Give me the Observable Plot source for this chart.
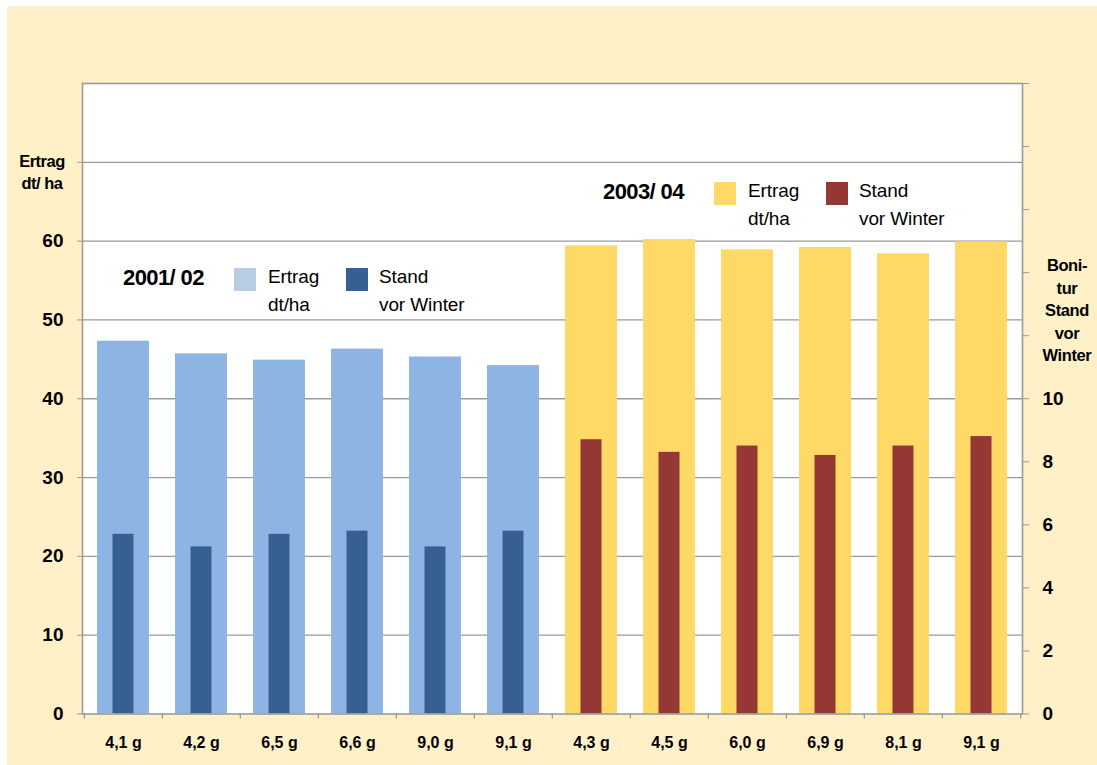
<!DOCTYPE html>
<html>
<head>
<meta charset="utf-8">
<script src="https://cdn.jsdelivr.net/npm/d3@7"></script>
<script src="https://cdn.jsdelivr.net/npm/@observablehq/plot@0.6"></script>
<style>
  html, body { margin: 0; padding: 0; background: #ffffff; }
  #wrap { position: relative; width: 1097px; height: 765px; overflow: hidden; }
  #bg { position: absolute; left: 7px; top: 6px; right: 0; bottom: 0; background: #FFF0C8; }
  #chart { position: absolute; left: 0; top: 0; }
  svg text { font-family: "Liberation Sans", Arial, sans-serif; }
</style>
</head>
<body>
<div id="wrap"><div id="bg"></div><div id="chart"></div></div>
<script>
// ---- data ----
const labels = ["4,1 g", "4,2 g", "6,5 g", "6,6 g", "9,0 g", "9,1 g", "4,3 g", "4,5 g", "6,0 g", "6,9 g", "8,1 g", "9,1 g"];
const seasons = ["2001/02", "2003/04"];
const ertrag2001 = [47.3, 45.7, 44.9, 46.3, 45.3, 44.2];
const stand2001 = [5.7, 5.3, 5.7, 5.8, 5.3, 5.8];
const ertrag2003 = [59.4, 60.2, 58.9, 59.2, 58.4, 59.9];
const stand2003 = [8.7, 8.3, 8.5, 8.2, 8.5, 8.8];
const leftTicks = [0, 10, 20, 30, 40, 50, 60, 70];
const rightTicks = [0, 2, 4, 6, 8, 10, 12, 14, 16, 18, 20];
const rightMax = 20, leftMax = 80;

const colors = {
  ertrag2001: "#8EB4E3", stand2001: "#376092",
  ertrag2003: "#FFD966", stand2003: "#953735",
  swatch2001: "#B9CDE5"
};

const rows = [];
ertrag2001.forEach((v, k) => rows.push({i: k, season: seasons[0], ertrag: v, stand: stand2001[k]}));
ertrag2003.forEach((v, k) => rows.push({i: k + 6, season: seasons[1], ertrag: v, stand: stand2003[k]}));
const r01 = rows.filter(d => d.season === seasons[0]);
const r03 = rows.filter(d => d.season === seasons[1]);

const W = 1097, H = 765, mL = 82, mR = 75, mT = 83, mB = 51.5;
const step = (W - mL - mR) / labels.length;
const ratio = leftMax / rightMax;
const gray = "#9A9A9A";
const font = "Liberation Sans, Arial, sans-serif";

const plot = Plot.plot({
  width: W, height: H,
  marginLeft: mL, marginRight: mR, marginTop: mT, marginBottom: mB,
  style: {background: "transparent", fontFamily: font, color: "#000"},
  x: {type: "band", domain: d3.range(labels.length), paddingInner: 0.335, paddingOuter: 0.1675},
  y: {domain: [0, leftMax]},
  marks: [
    Plot.frame({fill: "white", stroke: "none"}),
    Plot.gridY(leftTicks.filter(t => t > 0), {stroke: gray, strokeOpacity: 1, strokeWidth: 1.3}),
    Plot.barY(r01, {x: "i", y: "ertrag", fill: colors.ertrag2001}),
    Plot.barY(r03, {x: "i", y: "ertrag", fill: colors.ertrag2003}),
    Plot.barY(r01, {x: "i", y: d => d.stand * ratio, fill: colors.stand2001, insetLeft: 15.5, insetRight: 15.5}),
    Plot.barY(r03, {x: "i", y: d => d.stand * ratio, fill: colors.stand2003, insetLeft: 15.5, insetRight: 15.5}),
    Plot.frame({stroke: gray, strokeWidth: 1.6}),
    // category boundary ticks below the x axis
    Plot.ruleX(d3.range(labels.length), {x: d => d, y1: 0, y2: -0.65, dx: -step / 2, stroke: gray, strokeWidth: 1.3}),
    Plot.ruleX([labels.length - 1], {x: d => d, y1: 0, y2: -0.65, dx: step / 2, stroke: gray, strokeWidth: 1.3}),
    Plot.axisX({tickSize: 0, tickPadding: 23, tickFormat: i => labels[i], fontSize: 16, fontWeight: "bold", label: null, fill: "#000"}),
    Plot.axisY({ticks: leftTicks, tickFormat: d => d <= 60 ? d : "", tickSize: 5, tickPadding: 14, fontSize: 19, fontWeight: "bold", label: null, stroke: gray, fill: "#000"}),
    Plot.axisY({anchor: "right", ticks: rightTicks.map(t => t * ratio), tickFormat: d => d / ratio <= 10 ? d / ratio : "", tickSize: 6, tickPadding: 14, fontSize: 19, fontWeight: "bold", label: null, stroke: gray, fill: "#000"})
  ]
});
document.getElementById("chart").appendChild(plot);

// ---- titles & legends ----
const svg = d3.select(plot);
const g = svg.append("g").attr("font-family", font);

function lines(x, y0, lh, arr, opts) {
  const t = g.append("text").attr("x", x).attr("y", y0)
    .attr("font-size", opts.size).attr("font-weight", opts.weight || "normal")
    .attr("text-anchor", opts.anchor || "start").attr("letter-spacing", opts.ls || 0).attr("fill", "#000");
  arr.forEach((s, k) => t.append("tspan").attr("x", x).attr("y", y0 + k * lh).text(s));
}

// axis titles
lines(42, 167, 22, ["Ertrag", "dt/ ha"], {size: 16.5, weight: "bold", anchor: "middle", ls: -0.5});
lines(1067, 271, 22.6, ["Boni-", "tur", "Stand", "vor", "Winter"], {size: 16.5, weight: "bold", anchor: "middle", ls: -0.4});

// legends
function legend(x, y, season, c1, c2) {
  lines(x, y + 16, 0, [season.replace("/", "/ ")], {size: 22, weight: "bold", ls: -0.6});
  g.append("rect").attr("x", x + 111).attr("y", y - 1).attr("width", 22).attr("height", 23).attr("fill", c1);
  lines(x + 145, y + 14, 28, ["Ertrag", "dt/ha"], {size: 19, ls: -0.1});
  g.append("rect").attr("x", x + 223).attr("y", y - 1).attr("width", 22).attr("height", 23).attr("fill", c2);
  lines(x + 256, y + 14, 28, ["Stand", "vor Winter"], {size: 19, ls: -0.1});
}
legend(123, 269, seasons[0], colors.swatch2001, colors.stand2001);
legend(603, 183, seasons[1], colors.ertrag2003, colors.stand2003);
</script>
</body>
</html>
